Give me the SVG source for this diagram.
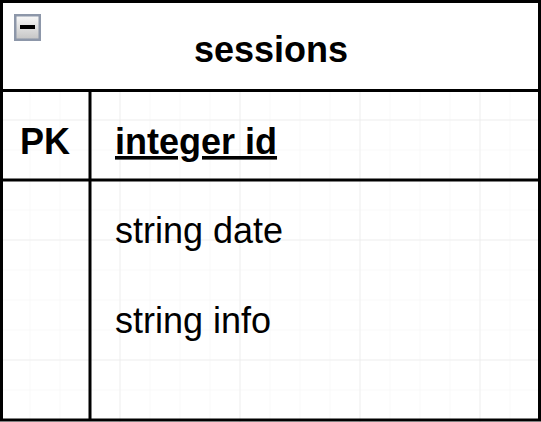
<svg xmlns="http://www.w3.org/2000/svg" width="541" height="422" viewBox="0 0 541 422">
  <defs>
    <pattern id="minor" width="30" height="30" patternUnits="userSpaceOnUse">
      <path d="M30 0V30M0 30H30" fill="none" stroke="#f3f3f3" stroke-width="1"/>
    </pattern>
    <pattern id="major" width="120" height="120" patternUnits="userSpaceOnUse">
      <path d="M120 0V120M0 120H120" fill="none" stroke="#e4e4e4" stroke-width="1"/>
    </pattern>
    <linearGradient id="btn" x1="0" y1="0" x2="0" y2="1">
      <stop offset="0" stop-color="#fafafa"/>
      <stop offset="1" stop-color="#c4c4c4"/>
    </linearGradient>
  </defs>
  <style>
    .t { font-family: "Liberation Sans", Arial, sans-serif; font-size: 36px; fill: #000; }
    .b { font-weight: bold; }
    .line { stroke: #000; stroke-width: 3; fill: none; }
  </style>
  <rect x="0" y="0" width="541" height="422" fill="#ffffff"/>
  <rect x="0" y="0" width="541" height="422" fill="url(#minor)" transform="translate(0.5 0.5)"/>
  <rect x="0" y="0" width="541" height="422" fill="url(#major)" transform="translate(0.5 0.5)"/>
  <g id="sessions">
    <rect x="1.5" y="1.5" width="538" height="89" fill="#ffffff"/>
    <rect x="1.5" y="1.5" width="538" height="418.5" class="line"/>
    <line x1="1.5" y1="90.5" x2="539.5" y2="90.5" class="line"/>
    <line x1="1.5" y1="180" x2="539.5" y2="180" class="line"/>
    <line x1="90" y1="90.5" x2="90" y2="420" class="line"/>
    <g id="collapse-icon">
      <rect x="15.25" y="15.25" width="24.5" height="24.5" fill="url(#btn)" stroke="#8d97a9" stroke-width="2.5"/>
      <rect x="20" y="25" width="15" height="4" fill="#000"/>
    </g>
    <text class="t b" x="271" y="62" text-anchor="middle">sessions</text>
    <text class="t b" x="45" y="154" text-anchor="middle">PK</text>
    <text class="t b" x="115" y="154" text-decoration="underline">integer id</text>
    <text class="t" x="115" y="243">string date</text>
    <text class="t" x="115" y="333">string info</text>
  </g>
  <g id="connectors"/>
</svg>
